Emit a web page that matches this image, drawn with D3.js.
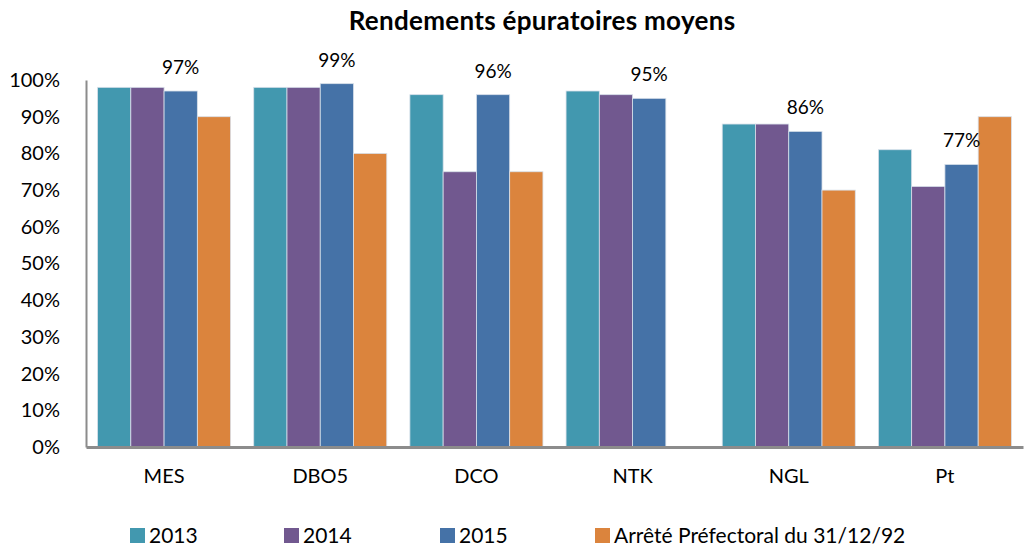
<!DOCTYPE html>
<html>
<head>
<meta charset="utf-8">
<script src="https://cdn.jsdelivr.net/npm/d3@7"></script>
<style>
  body { margin: 0; background: #fff; }
  text { font-family: Lato, "Noto Sans", sans-serif; fill: #000; }
</style>
</head>
<body>
<div id="chart"></div>
<script>
const categories = ["MES", "DBO5", "DCO", "NTK", "NGL", "Pt"];
const seriesNames = ["2013", "2014", "2015", "Arrêté Préfectoral du 31/12/92"];
const values2013 = [98, 98, 96, 97, 88, 81];
const values2014 = [98, 98, 75, 96, 88, 71];
const values2015 = [97, 99, 96, 95, 86, 77];
const valuesArrete = [90, 80, 75, null, 70, 90];
const yTicks = [0, 10, 20, 30, 40, 50, 60, 70, 80, 90, 100];
const colors = ["#4298af", "#71588f", "#4572a7", "#db843d"];

const W = 1027, H = 546;
const margin = {top: 79, right: 4, bottom: 99, left: 86};

const svg = d3.select("#chart").append("svg")
  .attr("width", W).attr("height", H);

const allSeries = [values2013, values2014, values2015, valuesArrete];
const rows = categories.map((c, i) => ({
  cat: c,
  vals: allSeries.map((s, j) => ({key: seriesNames[j], j: j, v: s[i]}))
}));

const x = d3.scaleBand().domain(categories)
  .range([margin.left, W - margin.right]).paddingInner(0.148).paddingOuter(0.074);
const xi = d3.scaleBand().domain(d3.range(4)).range([0, x.bandwidth()]);
const y = d3.scaleLinear().domain([0, 100]).range([H - margin.bottom, margin.top + 1]);

// title
svg.append("text")
  .attr("x", 542).attr("y", 30)
  .attr("text-anchor", "middle")
  .style("font-weight", "bold").style("font-size", "26px")
  .style("letter-spacing", "0.3px")
  .text("Rendements épuratoires moyens");

// bars
const g = svg.append("g").selectAll("g").data(rows).join("g")
  .attr("transform", d => `translate(${x(d.cat)},0)`);

g.selectAll("rect").data(d => d.vals.filter(v => v.v != null)).join("rect")
  .attr("x", d => xi(d.j))
  .attr("width", xi.bandwidth())
  .attr("y", d => y(d.v))
  .attr("height", d => y(0) - y(d.v))
  .attr("fill", d => colors[d.j])
  .attr("stroke", "#d8e0ea").attr("stroke-width", 0.8);

// data labels for 2015
g.append("text")
  .attr("x", xi(2) + xi.bandwidth() / 2)
  .attr("y", d => y(d.vals[2].v) - 17)
  .attr("text-anchor", "middle")
  .style("font-size", "19px")
  .text(d => d.vals[2].v + "%");

// axes
const yAxis = svg.append("g")
  .attr("transform", `translate(${margin.left},0)`)
  .call(d3.axisLeft(y).tickValues(yTicks).tickFormat(d => d + "%").tickSize(0).tickPadding(26));
yAxis.select(".domain").attr("stroke", "#8c8c8c").attr("stroke-width", 2);
yAxis.selectAll("text").style("font-size", "20px").style("font-family", "Lato, sans-serif");

const xAxis = svg.append("g")
  .attr("transform", `translate(0,${y(0)})`)
  .call(d3.axisBottom(x).tickSize(0).tickPadding(22));
xAxis.select(".domain").attr("stroke", "#8c8c8c").attr("stroke-width", 3);
xAxis.selectAll("text").style("font-size", "20px").style("font-family", "Lato, sans-serif");

// legend
const legendX = [130, 284, 440, 595];
const lg = svg.append("g").selectAll("g").data(seriesNames).join("g")
  .attr("transform", (d, i) => `translate(${legendX[i]},528)`);
lg.append("rect").attr("width", 15).attr("height", 15).attr("fill", (d, i) => colors[i]);
lg.append("text").attr("x", 19).attr("y", 15)
  .style("font-size", "21px")
  .text(d => d);
</script>
</body>
</html>
